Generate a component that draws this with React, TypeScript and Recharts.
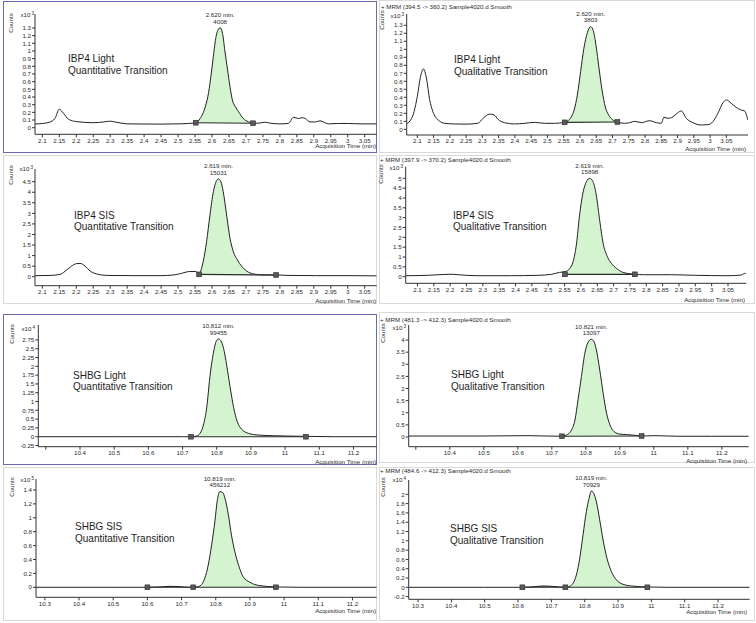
import React from 'react'
import { ComposedChart, Line, Area, XAxis, YAxis, ReferenceDot } from 'recharts'

const FONT = '"Liberation Sans", Arial, Helvetica, sans-serif'
const INK = '#2b2b2b'
const GREEN = '#d4f4d0'
const OLIVE = '#8f8752'
const BLUE = '#6a6ab4'
const GRAY = '#d9d9d9'

// tick labels
const ibp4Ticks = [2.1, 2.15, 2.2, 2.25, 2.3, 2.35, 2.4, 2.45, 2.5, 2.55, 2.6, 2.65, 2.7, 2.75, 2.8, 2.85, 2.9, 2.95, 3, 3.05]
const shbgTicks = [10.3, 10.4, 10.5, 10.6, 10.7, 10.8, 10.9, 11, 11.1, 11.2]
const yTicks13 = [0, 0.1, 0.2, 0.3, 0.4, 0.5, 0.6, 0.7, 0.8, 0.9, 1, 1.1, 1.2, 1.3]
const yTicks45 = [0, 0.5, 1, 1.5, 2, 2.5, 3, 3.5, 4, 4.5]
const yTicks5 = [0, 0.5, 1, 1.5, 2, 2.5, 3, 3.5, 4, 4.5, 5]
const yTicks275 = [-0.25, 0, 0.25, 0.5, 0.75, 1, 1.25, 1.5, 1.75, 2, 2.25, 2.5, 2.75]
const yTicks4 = [0, 0.5, 1, 1.5, 2, 2.5, 3, 3.5, 4]
const yTicks14 = [0, 0.2, 0.4, 0.6, 0.8, 1, 1.2, 1.4]
const yTicks2 = [-0.2, 0, 0.2, 0.4, 0.6, 0.8, 1, 1.2, 1.4, 1.6, 1.8, 2]

// IBP4 Light, quantitative transition (counts x10^3)
const ibp4LightQuantT = [2.078, 2.1, 2.12, 2.137, 2.15, 2.162, 2.177, 2.2, 2.25, 2.28, 2.3, 2.32, 2.35, 2.4, 2.45, 2.5, 2.53, 2.552, 2.565, 2.58, 2.59, 2.597, 2.604, 2.612, 2.619, 2.624, 2.631, 2.638, 2.646, 2.653, 2.66, 2.668, 2.678, 2.692, 2.707, 2.721, 2.74, 2.755, 2.77, 2.8, 2.825, 2.84, 2.855, 2.865, 2.875, 2.889, 2.905, 2.918, 2.943, 2.97, 3.0, 3.04, 3.085]
const ibp4LightQuantY = [0.048, 0.055, 0.07, 0.12, 0.24, 0.19, 0.11, 0.08, 0.065, 0.075, 0.085, 0.07, 0.05, 0.048, 0.047, 0.05, 0.055, 0.065, 0.12, 0.27, 0.46, 0.68, 0.93, 1.19, 1.285, 1.303, 1.23, 1.0, 0.75, 0.535, 0.36, 0.28, 0.21, 0.12, 0.078, 0.058, 0.06, 0.072, 0.06, 0.05, 0.055, 0.135, 0.12, 0.13, 0.12, 0.075, 0.075, 0.09, 0.05, 0.055, 0.055, 0.05, 0.05]
const ibp4LightQuantMarkT = [2.552, 2.721]
const ibp4LightQuantMarkY = [0.065, 0.058]
const ibp4LightQuantPeak = ['2.620 min.', '4008']

// IBP4 Light, qualitative transition (counts x10^3)
const ibp4LightQualT = [2.067, 2.087, 2.1, 2.11, 2.119, 2.128, 2.138, 2.148, 2.164, 2.184, 2.215, 2.25, 2.286, 2.302, 2.322, 2.336, 2.348, 2.368, 2.399, 2.43, 2.46, 2.491, 2.522, 2.553, 2.568, 2.582, 2.592, 2.602, 2.612, 2.623, 2.633, 2.641, 2.65, 2.658, 2.668, 2.678, 2.688, 2.701, 2.715, 2.737, 2.753, 2.768, 2.789, 2.814, 2.835, 2.85, 2.858, 2.871, 2.886, 2.899, 2.911, 2.927, 2.947, 2.973, 2.993, 3.009, 3.024, 3.04, 3.05, 3.065, 3.08, 3.096, 3.106, 3.116]
const ibp4LightQualY = [0.067, 0.18, 0.41, 0.66, 0.755, 0.64, 0.37, 0.22, 0.117, 0.075, 0.067, 0.065, 0.075, 0.137, 0.19, 0.18, 0.125, 0.083, 0.067, 0.075, 0.087, 0.075, 0.075, 0.087, 0.125, 0.24, 0.43, 0.72, 1.01, 1.21, 1.283, 1.233, 1.03, 0.78, 0.49, 0.28, 0.18, 0.117, 0.092, 0.075, 0.083, 0.1, 0.083, 0.108, 0.083, 0.075, 0.15, 0.137, 0.158, 0.2, 0.23, 0.137, 0.083, 0.054, 0.058, 0.096, 0.2, 0.333, 0.367, 0.325, 0.275, 0.24, 0.23, 0.117]
const ibp4LightQualMarkT = [2.553, 2.715]
const ibp4LightQualMarkY = [0.087, 0.092]
const ibp4LightQualPeak = ['2.620 min.', '3803']

// IBP4 SIS, quantitative transition (counts x10^3)
const ibp4SisQuantT = [2.078, 2.123, 2.152, 2.172, 2.186, 2.201, 2.211, 2.226, 2.24, 2.26, 2.29, 2.368, 2.447, 2.486, 2.511, 2.53, 2.55, 2.562, 2.574, 2.584, 2.594, 2.604, 2.612, 2.619, 2.626, 2.633, 2.643, 2.653, 2.663, 2.675, 2.687, 2.702, 2.722, 2.751, 2.789, 2.83, 2.908, 3.007, 3.085]
const ibp4SisQuantY = [0.05, 0.06, 0.11, 0.32, 0.5, 0.62, 0.63, 0.5, 0.28, 0.13, 0.06, 0.05, 0.05, 0.08, 0.16, 0.24, 0.25, 0.16, 0.71, 1.66, 2.92, 4.03, 4.5, 4.63, 4.5, 4.03, 2.92, 1.82, 1.18, 0.79, 0.5, 0.27, 0.13, 0.08, 0.08, 0.06, 0.05, 0.05, 0.04]
const ibp4SisQuantMarkT = [2.562, 2.789]
const ibp4SisQuantMarkY = [0.11, 0.08]
const ibp4SisQuantPeak = ['2.619 min.', '15031']

// IBP4 SIS, qualitative transition (counts x10^3)
const ibp4SisQualT = [2.064, 2.133, 2.194, 2.209, 2.235, 2.286, 2.387, 2.469, 2.51, 2.535, 2.551, 2.566, 2.576, 2.586, 2.596, 2.607, 2.617, 2.627, 2.637, 2.647, 2.658, 2.668, 2.681, 2.693, 2.709, 2.729, 2.765, 2.795, 2.877, 2.948, 3.05, 3.091, 3.101, 3.106]
const ibp4SisQualY = [0.05, 0.07, 0.12, 0.12, 0.085, 0.05, 0.05, 0.07, 0.12, 0.22, 0.25, 0.42, 0.76, 1.61, 3.14, 4.32, 4.83, 5.0, 4.83, 4.15, 2.8, 1.7, 1.02, 0.68, 0.42, 0.22, 0.12, 0.1, 0.1, 0.07, 0.05, 0.085, 0.17, 0.14]
const ibp4SisQualMarkT = [2.551, 2.765]
const ibp4SisQualMarkY = [0.12, 0.12]
const ibp4SisQualPeak = ['2.619 min.', '15898']

// SHBG Light, quantitative transition (counts x10^4)
const shbgLightQuantT = [10.278, 10.5, 10.7, 10.725, 10.741, 10.751, 10.761, 10.771, 10.78, 10.79, 10.798, 10.805, 10.812, 10.82, 10.829, 10.839, 10.849, 10.86, 10.873, 10.893, 10.922, 10.966, 11.005, 11.061, 11.141, 11.268]
const shbgLightQuantY = [0, 0, 0, 0, 0.02, 0.095, 0.33, 0.85, 1.7, 2.37, 2.7, 2.78, 2.73, 2.51, 2.04, 1.42, 0.85, 0.43, 0.21, 0.095, 0.047, 0.028, 0.019, 0.01, 0, 0]
const shbgLightQuantMarkT = [10.725, 11.061]
const shbgLightQuantMarkY = [0, 0]
const shbgLightQuantPeak = ['10.812 min.', '99455']

// SHBG Light, qualitative transition (counts x10^3)
const shbgLightQualT = [10.279, 10.483, 10.63, 10.73, 10.743, 10.758, 10.768, 10.777, 10.787, 10.797, 10.806, 10.816, 10.824, 10.831, 10.841, 10.851, 10.861, 10.871, 10.883, 10.9, 10.92, 10.944, 10.964, 11.003, 11.072, 11.17, 11.279]
const shbgLightQualY = [0.04, 0.04, 0.055, 0.03, 0.08, 0.29, 0.7, 1.53, 2.49, 3.45, 3.89, 4.03, 3.93, 3.59, 2.76, 1.8, 0.98, 0.5, 0.22, 0.12, 0.1, 0.07, 0.04, 0.055, 0.03, 0.03, 0.03]
const shbgLightQualMarkT = [10.73, 10.964]
const shbgLightQualMarkY = [0.03, 0.04]
const shbgLightQualPeak = ['10.821 min.', '13097']

// SHBG SIS, quantitative transition (counts x10^5)
const shbgSisQuantT = [10.274, 10.5, 10.6, 10.637, 10.666, 10.695, 10.72, 10.734, 10.749, 10.759, 10.768, 10.778, 10.788, 10.798, 10.804, 10.812, 10.82, 10.827, 10.837, 10.846, 10.856, 10.868, 10.88, 10.9, 10.929, 10.976, 11.046, 11.271]
const shbgSisQuantY = [0, 0, 0, 0.005, 0.014, 0.01, 0, 0, 0.01, 0.043, 0.13, 0.32, 0.61, 0.97, 1.23, 1.376, 1.366, 1.28, 1.04, 0.75, 0.51, 0.3, 0.153, 0.072, 0.024, 0.005, 0, 0]
const shbgSisQuantMarkT = [10.6, 10.734, 10.976]
const shbgSisQuantMarkY = [0, 0, 0]
const shbgSisQuantPeak = ['10.819 min.', '456212']

// SHBG SIS, qualitative transition (counts x10^4)
const shbgSisQualT = [10.272, 10.5, 10.613, 10.65, 10.675, 10.7, 10.725, 10.742, 10.755, 10.765, 10.775, 10.785, 10.795, 10.805, 10.813, 10.82, 10.827, 10.835, 10.845, 10.855, 10.867, 10.88, 10.895, 10.915, 10.94, 10.988, 11.05, 11.295]
const shbgSisQualY = [0, 0, 0, 0.014, 0.029, 0.022, 0.007, 0, 0.02, 0.086, 0.265, 0.62, 1.13, 1.63, 1.91, 2.07, 2.02, 1.84, 1.45, 1.02, 0.62, 0.34, 0.16, 0.065, 0.029, 0.007, 0, 0]
const shbgSisQualMarkT = [10.613, 10.742, 10.988]
const shbgSisQualMarkY = [0, 0, 0]
const shbgSisQualPeak = ['10.819 min.', '70929']

const panels = [
  {
    name: 'IBP4 Light', kind: 'Quantitative Transition', exp: '3', header: null,
    t: ibp4LightQuantT, y: ibp4LightQuantY, markT: ibp4LightQuantMarkT, markY: ibp4LightQuantMarkY, peak: ibp4LightQuantPeak,
    xTicks: ibp4Ticks, yTicks: yTicks13, xDomain: [2.0784, 3.0853], yDomain: [-0.086, 1.482], hideFirstX: false,
    box: { x: 0, y: 0, w: 378, h: 155 }, plot: { l: 35, r: 376.7, t: 14, b: 134.3 },
    border: [3, 1, 377, 153, BLUE],
    ov: { counts: [11, 23], exp: [34, 15], axis: [376, 146], title: [68, 53], header: null },
  },
  {
    name: 'IBP4 Light', kind: 'Qualitative Transition', exp: '3', header: '+ MRM (394.5 -> 360.2) Sample4020.d  Smooth',
    t: ibp4LightQualT, y: ibp4LightQualY, markT: ibp4LightQualMarkT, markY: ibp4LightQualMarkY, peak: ibp4LightQualPeak,
    xTicks: ibp4Ticks, yTicks: yTicks13, xDomain: [2.0674, 3.1166], yDomain: [-0.071, 1.441], hideFirstX: false,
    box: { x: 378, y: 0, w: 378, h: 155 }, plot: { l: 406.7, r: 748, t: 14, b: 135 },
    border: [379, 0, 755, 153, GRAY],
    ov: { counts: [381.5, 20], exp: [404, 16], axis: [746, 149], title: [454, 54], header: [381, 7] },
  },
  {
    name: 'IBP4 SIS', kind: 'Quantitative Transition', exp: '3', header: null,
    t: ibp4SisQuantT, y: ibp4SisQuantY, markT: ibp4SisQuantMarkT, markY: ibp4SisQuantMarkY, peak: ibp4SisQuantPeak,
    xTicks: ibp4Ticks, yTicks: yTicks45, xDomain: [2.0784, 3.0853], yDomain: [-0.426, 5.1], hideFirstX: false,
    box: { x: 0, y: 155, w: 378, h: 150 }, plot: { l: 35, r: 376.7, t: 169, b: 285.7 },
    border: [3, 155, 377, 304, GRAY],
    ov: { counts: [11, 175], exp: [33, 169], axis: [376, 300.7], title: [74, 209.7], header: null },
  },
  {
    name: 'IBP4 SIS', kind: 'Qualitative Transition', exp: '3', header: '+ MRM (397.9 -> 370.2) Sample4020.d  Smooth',
    t: ibp4SisQualT, y: ibp4SisQualY, markT: ibp4SisQualMarkT, markY: ibp4SisQualMarkY, peak: ibp4SisQualPeak,
    xTicks: ibp4Ticks, yTicks: yTicks5, xDomain: [2.064, 3.106], yDomain: [-0.336, 5.59], hideFirstX: false,
    box: { x: 378, y: 155, w: 378, h: 150 }, plot: { l: 405.7, r: 746.3, t: 166.7, b: 283.3 },
    border: [379, 155, 755, 304, GRAY],
    ov: { counts: [381, 174], exp: [403, 168], axis: [745, 300], title: [453, 209.7], header: [380, 160] },
  },
  {
    name: 'SHBG Light', kind: 'Quantitative Transition', exp: '4', header: null,
    t: shbgLightQuantT, y: shbgLightQuantY, markT: shbgLightQuantMarkT, markY: shbgLightQuantMarkY, peak: shbgLightQuantPeak,
    xTicks: shbgTicks, yTicks: yTicks275, xDomain: [10.278, 11.268], yDomain: [-0.284, 3.175], hideFirstX: true,
    box: { x: 0, y: 310, w: 378, h: 155 }, plot: { l: 38.3, r: 376.7, t: 325, b: 446.7 },
    border: [3, 314, 377, 465, BLUE],
    ov: { counts: [12, 334], exp: [35, 329], axis: [376, 461.7], title: [73.3, 369.7], header: null },
  },
  {
    name: 'SHBG Light', kind: 'Qualitative Transition', exp: '3', header: '+ MRM (481.3 -> 412.3) Sample4020.d  Smooth',
    t: shbgLightQualT, y: shbgLightQualY, markT: shbgLightQualMarkT, markY: shbgLightQualMarkY, peak: shbgLightQualPeak,
    xTicks: shbgTicks, yTicks: yTicks4, xDomain: [10.279, 11.279], yDomain: [-0.4, 4.62], hideFirstX: true,
    box: { x: 378, y: 310, w: 378, h: 155 }, plot: { l: 408.7, r: 748.7, t: 325, b: 446.7 },
    border: [379, 312, 755, 463, GRAY],
    ov: { counts: [383, 333], exp: [406, 328], axis: [747, 461], title: [451.3, 369], header: [380, 319.5] },
  },
  {
    name: 'SHBG SIS', kind: 'Quantitative Transition', exp: '5', header: null,
    t: shbgSisQuantT, y: shbgSisQuantY, markT: shbgSisQuantMarkT, markY: shbgSisQuantMarkY, peak: shbgSisQuantPeak,
    xTicks: shbgTicks, yTicks: yTicks14, xDomain: [10.274, 11.271], yDomain: [-0.144, 1.558], hideFirstX: false,
    box: { x: 0, y: 465, w: 378, h: 158 }, plot: { l: 36, r: 376.7, t: 479, b: 597.3 },
    border: [3, 467, 377, 621, GRAY],
    ov: { counts: [12, 487], exp: [34, 480], axis: [376, 610.7], title: [75, 521.3], header: null },
  },
  {
    name: 'SHBG SIS', kind: 'Qualitative Transition', exp: '4', header: '+ MRM (484.6 -> 412.3) Sample4020.d  Smooth',
    t: shbgSisQualT, y: shbgSisQualY, markT: shbgSisQualMarkT, markY: shbgSisQualMarkY, peak: shbgSisQualPeak,
    xTicks: shbgTicks, yTicks: yTicks2, xDomain: [10.272, 11.295], yDomain: [-0.258, 2.308], hideFirstX: false,
    box: { x: 378, y: 465, w: 378, h: 158 }, plot: { l: 408.7, r: 749.7, t: 480, b: 599.3 },
    border: [379, 467, 755, 621, GRAY],
    ov: { counts: [383, 487], exp: [406, 480], axis: [747, 611.7], title: [449.7, 523], header: [380, 471] },
  },
]

const SMALL = 6.2
const tickStyle = { fontSize: SMALL, fill: INK, fontFamily: FONT }

function markerDot(props: any) {
  const { cx, cy, index } = props
  if (cx == null || cy == null || Number.isNaN(cy)) return <g key={`m${index}`} />
  return (
    <rect key={`m${index}`} x={cx - 2.4} y={cy - 2.4} width={4.8} height={4.8} fill="#595959" stroke="#2a2a2a" strokeWidth={0.6} />
  )
}

function SmallText({ x, cy, right, children }: { x: number; cy: number; right?: boolean; children: React.ReactNode }) {
  return (
    <div
      style={{
        position: 'absolute',
        left: x,
        top: cy - SMALL * 0.6,
        fontSize: SMALL,
        lineHeight: `${SMALL * 1.2}px`,
        whiteSpace: 'nowrap',
        transform: right ? 'translateX(-100%)' : undefined,
      }}
    >
      {children}
    </div>
  )
}

function Panel({ p }: { p: any }) {
  const nWin = p.markT.length - 1
  const rows = p.t.map((t: number, i: number) => {
    const row: any = { t, y: p.y[i] }
    const m = p.markT.indexOf(t)
    row.bl = m >= 0 ? p.markY[m] : null
    for (let k = 0; k < nWin; k++) {
      row['f' + k] = t >= p.markT[k] && t <= p.markT[k + 1] ? p.y[i] : null
    }
    return row
  })
  let pk = 0
  p.y.forEach((v: number, i: number) => {
    if (v > p.y[pk]) pk = i
  })
  const { box, plot, ov } = p
  const [bx0, by0, bx1, by1, bc] = p.border

  return (
    <>
      <div
        style={{
          position: 'absolute', left: bx0, top: by0, width: bx1 - bx0, height: by1 - by0,
          border: `1px solid ${bc}`, boxSizing: 'border-box',
        }}
      />
      <div style={{ position: 'absolute', left: box.x, top: box.y, width: box.w, height: box.h }}>
        <ComposedChart
          width={box.w}
          height={box.h}
          data={rows}
          margin={{ top: plot.t - box.y, right: box.x + box.w - plot.r, bottom: 0, left: 0 }}
          style={{ fontFamily: FONT }}
        >
          <XAxis
            type="number"
            dataKey="t"
            domain={p.xDomain}
            ticks={p.xTicks}
            interval={0}
            allowDataOverflow
            height={box.y + box.h - plot.b}
            tickSize={3}
            tickMargin={1}
            stroke="#333"
            tick={tickStyle}
            tickFormatter={(v: number) => (p.hideFirstX && v === p.xTicks[0] ? '' : String(v))}
          />
          <YAxis
            type="number"
            domain={p.yDomain}
            ticks={p.yTicks}
            interval={0}
            allowDataOverflow
            width={plot.l - box.x}
            tickSize={3}
            tickMargin={1}
            stroke="#333"
            tick={tickStyle}
            tickFormatter={(v: number) => String(v)}
          />
          {Array.from({ length: nWin }).map((_, k) => (
            <Area
              key={'f' + k}
              dataKey={'f' + k}
              type="monotone"
              baseValue={(p.markY[k] + p.markY[k + 1]) / 2}
              fill={k === nWin - 1 ? GREEN : OLIVE}
              fillOpacity={1}
              stroke="none"
              isAnimationActive={false}
            />
          ))}
          <Line dataKey="y" type="monotone" stroke="#222" strokeWidth={1} dot={false} activeDot={false} isAnimationActive={false} />
          <Line
            dataKey="bl"
            type="linear"
            connectNulls
            stroke="#2a2a2a"
            strokeWidth={1.1}
            dot={markerDot}
            activeDot={false}
            isAnimationActive={false}
          />
          <ReferenceDot
            x={p.t[pk]}
            y={p.y[pk]}
            r={1}
            shape={(d: any) => (
              <g>
                <text x={d.cx} y={d.cy - 10.8} textAnchor="middle" fontSize={SMALL} fill={INK} fontFamily={FONT}>
                  {p.peak[0]}
                </text>
                <text x={d.cx} y={d.cy - 4.2} textAnchor="middle" fontSize={SMALL} fill={INK} fontFamily={FONT}>
                  {p.peak[1]}
                </text>
              </g>
            )}
          />
        </ComposedChart>
      </div>

      {ov.header && <SmallText x={ov.header[0]} cy={ov.header[1]}>{p.header}</SmallText>}
      <div
        style={{
          position: 'absolute', left: ov.counts[0], top: ov.counts[1], fontSize: SMALL, lineHeight: 1,
          whiteSpace: 'nowrap', transform: 'translate(-50%, -50%) rotate(-90deg)',
        }}
      >
        Counts
      </div>
      <SmallText x={ov.exp[0]} cy={ov.exp[1]} right>
        x10<span style={{ fontSize: 4.6, position: 'relative', top: -2.4, marginLeft: 1 }}>{p.exp}</span>
      </SmallText>
      <SmallText x={ov.axis[0]} cy={ov.axis[1]} right>
        Acquisition Time (min)
      </SmallText>
      <div
        style={{
          position: 'absolute', left: ov.title[0], top: ov.title[1], fontSize: 11, lineHeight: '11.6px',
          whiteSpace: 'nowrap', transform: 'scaleX(0.91)', transformOrigin: 'left top', color: '#1e1e1e',
        }}
      >
        <div>{p.name}</div>
        <div>{p.kind}</div>
      </div>
    </>
  )
}

export default function App() {
  return (
    <div
      style={{
        position: 'absolute', left: 0, top: 0, width: 756, height: 623, background: '#fff',
        overflow: 'hidden', fontFamily: FONT, color: INK,
      }}
    >
      {panels.map((p, i) => (
        <Panel key={i} p={p} />
      ))}
    </div>
  )
}
